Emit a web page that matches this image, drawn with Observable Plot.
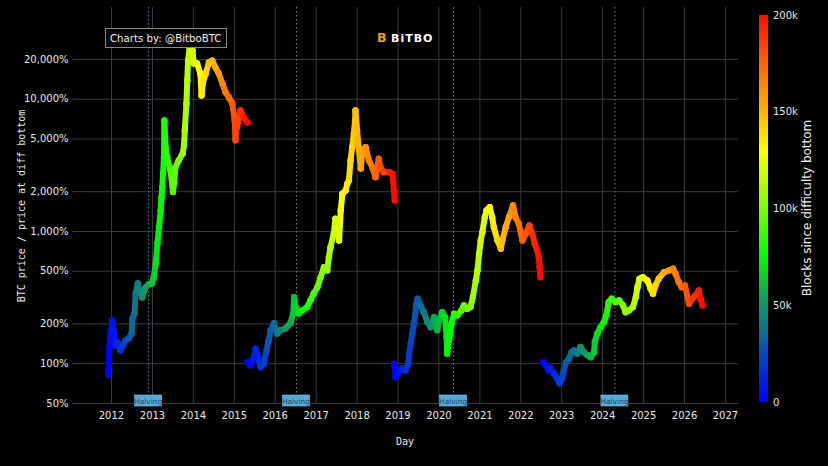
<!DOCTYPE html>
<html><head><meta charset="utf-8">
<script src="https://cdn.jsdelivr.net/npm/d3@7"></script>
<script src="https://cdn.jsdelivr.net/npm/@observablehq/plot@0.6"></script>
<style>
html,body{margin:0;padding:0;background:#000;}
#chart{position:relative;width:828px;height:466px;overflow:hidden;background:#000;}
</style></head><body><div id="chart"></div>
<script>
// [decimal year, BTC price / price at diff bottom (%), blocks since difficulty bottom (k)]
const cycle1 = [
[2011.92,82,0],[2011.93,102,1],[2011.95,133,2],[2011.98,169,4],[2012.02,212,6],[2012.05,179,8],[2012.10,137,11],[2012.15,145,14],[2012.22,126,18],[2012.34,150,25],[2012.42,155,29],[2012.49,169,34],[2012.51,220,35],[2012.56,240,38],[2012.59,340,39],[2012.64,405,42],[2012.66,371,44],[2012.75,317,49],[2012.83,378,54],[2012.90,398,58],[2012.99,405,63],[2013.03,449,65],[2013.08,573,68],[2013.12,813,71],[2013.16,1074,73],[2013.20,1443,75],[2013.22,1811,76],[2013.24,2155,78],[2013.26,2748,79],[2013.28,3631,80],[2013.29,6918,81],[2013.32,4324,82],[2013.36,3631,85],[2013.44,2897,89],[2013.50,1990,93],[2013.53,2312,94],[2013.56,3050,96],[2013.64,3443,101],[2013.74,3891,107],[2013.77,4470,109],[2013.79,5800,110],[2013.83,9290,112],[2013.85,13850,113],[2013.87,19600,115],[2013.91,24600,117],[2013.98,23350,121],[2014.01,18620,123],[2014.09,18620,128],[2014.17,15640,132],[2014.20,10670,134],[2014.23,13150,136],[2014.30,15640,140],[2014.38,18950,145],[2014.46,19600,149],[2014.54,17380,154],[2014.62,15640,159],[2014.71,13150,164],[2014.79,11240,169],[2014.87,10300,173],[2014.95,9290,178],[2015.01,6918,182],[2015.03,4890,183],[2015.05,6918,184],[2015.07,6120,185],[2015.15,8225,190],[2015.23,7285,195],[2015.32,6680,200]
];
const cycle2 = [
[2015.32,103,0],[2015.40,97,4],[2015.48,112,9],[2015.52,130,11],[2015.56,120,13],[2015.64,94,18],[2015.72,100,22],[2015.79,126,26],[2015.84,150,29],[2015.89,179,32],[2015.97,202,36],[2016.05,169,41],[2016.13,179,45],[2016.25,185,52],[2016.37,202,58],[2016.44,240,62],[2016.46,319,63],[2016.50,268,66],[2016.58,240,70],[2016.66,253,74],[2016.78,268,81],[2016.86,301,86],[2016.94,340,90],[2017.03,379,95],[2017.11,451,100],[2017.19,537,104],[2017.27,507,108],[2017.31,639,111],[2017.35,761,113],[2017.43,961,117],[2017.47,1248,120],[2017.52,1078,122],[2017.56,855,125],[2017.60,1443,127],[2017.64,1928,129],[2017.72,2042,133],[2017.76,2294,136],[2017.80,2429,138],[2017.84,3443,140],[2017.88,4335,142],[2017.92,5474,145],[2017.95,6902,146],[2017.96,8222,147],[2018.00,5799,149],[2018.09,2994,154],[2018.13,4096,156],[2018.21,4335,161],[2018.29,3443,165],[2018.37,3062,170],[2018.45,2573,174],[2018.53,3543,178],[2018.57,3062,181],[2018.65,2805,185],[2018.78,2805,192],[2018.86,2729,197],[2018.88,2429,198],[2018.90,2042,199],[2018.92,1715,200]
];
const cycle3 = [
[2018.90,100,0],[2018.94,79,2],[2019.02,86,7],[2019.10,92,11],[2019.18,89,16],[2019.25,100,20],[2019.27,119,21],[2019.31,142,23],[2019.35,169,25],[2019.39,201,27],[2019.45,284,31],[2019.48,310,32],[2019.55,276,36],[2019.63,245,41],[2019.72,206,46],[2019.80,189,50],[2019.88,225,55],[2019.96,179,59],[2020.00,212,61],[2020.08,245,66],[2020.15,225,70],[2020.19,159,72],[2020.20,119,73],[2020.26,159,76],[2020.31,201,79],[2020.37,239,82],[2020.45,232,87],[2020.55,253,92],[2020.61,276,96],[2020.69,260,100],[2020.77,268,105],[2020.83,319,108],[2020.90,426,112],[2020.94,507,114],[2020.98,678,116],[2021.02,855,118],[2021.06,988,121],[2021.12,1283,124],[2021.16,1443,126],[2021.24,1527,131],[2021.30,1283,134],[2021.34,1078,136],[2021.43,855,141],[2021.51,740,146],[2021.55,855,148],[2021.63,1078,153],[2021.71,1283,157],[2021.81,1573,163],[2021.87,1283,166],[2021.95,1144,170],[2022.04,855,176],[2022.12,961,180],[2022.21,1110,185],[2022.28,961,189],[2022.34,807,192],[2022.40,719,196],[2022.44,639,198],[2022.46,537,199],[2022.48,451,200]
];
const cycle4 = [
[2022.54,103,0],[2022.61,97,4],[2022.67,89,7],[2022.73,92,10],[2022.81,84,14],[2022.89,77,18],[2022.95,71,21],[2023.01,77,24],[2023.05,89,26],[2023.11,103,29],[2023.18,109,33],[2023.24,122,36],[2023.30,126,39],[2023.38,119,43],[2023.46,134,47],[2023.54,122,51],[2023.63,116,56],[2023.71,112,60],[2023.79,122,64],[2023.81,146,65],[2023.87,169,68],[2023.95,189,72],[2024.03,206,76],[2024.09,232,80],[2024.15,292,83],[2024.22,310,86],[2024.32,292,91],[2024.40,301,95],[2024.50,276,101],[2024.56,245,104],[2024.64,253,108],[2024.74,268,113],[2024.81,319,116],[2024.85,379,119],[2024.90,439,121],[2024.98,451,125],[2025.09,426,131],[2025.17,369,135],[2025.23,338,138],[2025.29,391,141],[2025.37,439,145],[2025.50,492,152],[2025.62,507,158],[2025.72,523,163],[2025.78,479,166],[2025.86,414,170],[2025.93,379,174],[2026.01,391,178],[2026.11,284,183],[2026.19,310,187],[2026.27,328,191],[2026.35,358,195],[2026.39,310,197],[2026.44,276,200]
];
const halvings = ["2012-11-28","2016-07-09","2020-05-11","2024-04-20"];
const xTickYears = [2012,2013,2014,2015,2016,2017,2018,2019,2020,2021,2022,2023,2024,2025,2026,2027];
const yTickValues = [50,100,200,500,1000,2000,5000,10000,20000];
const colorStops = [0,24000,40000,54000,76000,100000,130000,152000,176000,200000];
const colorRange = ["#0000ff","#0845c4","#0c7a8a","#10a05a","#00ff00","#7aff00","#ffff00","#ffae00","#ff6200","#ff0a00"];
const colorbarTicks = [0,50000,100000,150000,200000];
const colorbarLabels = ["0","50k","100k","150k","200k"];

function dec(y){const Y=Math.floor(y);const s=Date.UTC(Y,0,1),e=Date.UTC(Y+1,0,1);return new Date(s+(y-Y)*(e-s));}

const cycles=[cycle1,cycle2,cycle3,cycle4];
const points=[],segs=[];
cycles.forEach(c=>{
  c.forEach(d=>points.push({date:dec(d[0]),pct:d[1],blocks:d[2]*1000}));
  for(let i=0;i<c.length-1;i++){
    segs.push({x1:dec(c[i][0]),y1:c[i][1],x2:dec(c[i+1][0]),y2:c[i+1][1],blocks:(c[i][2]+c[i+1][2])*500});
  }
});
const halvingDates=halvings.map(s=>new Date(s+"T00:00:00Z"));
const xTicks=xTickYears.map(y=>new Date(Date.UTC(y,0,1)));
const fmtPct=d=>d3.format(",")(d)+"%";
const FONT="'DejaVu Sans', Verdana, sans-serif";

const W=828,H=466,ML=72,MR=90,MT=7,MB=63;
const chart=Plot.plot({
  width:W,height:H,marginLeft:ML,marginRight:MR,marginTop:MT,marginBottom:MB,
  style:{background:"#000",color:"#e8e8e8",fontFamily:FONT,fontSize:"10px"},
  x:{type:"utc",domain:[dec(2011.047),dec(2027.32)],axis:null},
  y:{type:"log",domain:[50,49400],axis:null},
  color:{type:"linear",domain:colorStops,range:colorRange,interpolate:"rgb"},
  marks:[
    Plot.ruleX(xTicks,{stroke:"#3a3a3a",strokeWidth:1}),
    Plot.ruleY(yTickValues,{stroke:"#3a3a3a",strokeWidth:1}),
    Plot.ruleX(halvingDates,{stroke:"#4a8db8",strokeWidth:1,strokeDasharray:"1.5,2.5"}),
    Plot.text(xTicks,{x:d=>d,frameAnchor:"bottom",dy:15,text:d=>String(d.getUTCFullYear()),fill:"#e8e8e8",fontSize:10}),
    Plot.text(yTickValues,{y:d=>d,frameAnchor:"left",dx:-4,textAnchor:"end",text:fmtPct,fill:"#e8e8e8",fontSize:10}),
    Plot.link(segs,{x1:"x1",y1:"y1",x2:"x2",y2:"y2",stroke:"blocks",strokeWidth:6,strokeLinecap:"round"}),
    Plot.dot(points,{x:"date",y:"pct",fill:"blocks",r:3.2,stroke:null})
  ]
});
document.getElementById("chart").appendChild(chart);
const svg=d3.select(chart);
const xs=chart.scale("x");

// halving labels
halvingDates.forEach(d=>{
  const x=xs.apply(d);
  svg.append("rect").attr("x",x-13.5).attr("y",395).attr("width",27).attr("height",11)
    .attr("fill","#58a8d4").attr("stroke","#7cc3ea").attr("stroke-width",0.6);
  svg.append("text").attr("x",x).attr("y",403.5).attr("text-anchor","middle")
    .attr("font-family",FONT).attr("font-size",7.4).attr("fill","#1d4a68").text("Halving");
});

// axis titles
svg.append("text").attr("transform","translate(25,206) rotate(-90)").attr("text-anchor","middle")
  .attr("font-family","'DejaVu Sans Mono', monospace").attr("font-size",10).attr("fill","#e8e8e8")
  .text("BTC price / price at diff bottom");
svg.append("text").attr("x",405).attr("y",445).attr("text-anchor","middle")
  .attr("font-family","'DejaVu Sans Mono', monospace").attr("font-size",10).attr("fill","#e8e8e8").text("Day");

// colorbar
const cbTop=15,cbBot=402,cbX=759,cbW=9;
const grad=svg.append("defs").append("linearGradient").attr("id","cbgrad").attr("x1",0).attr("y1",1).attr("x2",0).attr("y2",0);
colorStops.forEach((s,i)=>grad.append("stop").attr("offset",s/200000).attr("stop-color",colorRange[i]));
svg.append("rect").attr("x",cbX).attr("y",cbTop).attr("width",cbW).attr("height",cbBot-cbTop).attr("fill","url(#cbgrad)");
colorbarTicks.forEach((t,i)=>{
  const y=cbBot-(t/200000)*(cbBot-cbTop);
  svg.append("text").attr("x",773).attr("y",y).attr("dy","0.35em").attr("text-anchor","start")
    .attr("font-family",FONT).attr("font-size",10).attr("fill","#e8e8e8").text(colorbarLabels[i]);
});
svg.append("text").attr("transform","translate(811,208) rotate(-90)").attr("text-anchor","middle")
  .attr("font-family",FONT).attr("font-size",12).attr("fill","#f0f0f0")
  .text("Blocks since difficulty bottom");

// annotation box
svg.append("rect").attr("x",105.5).attr("y",28.5).attr("width",121).attr("height",19)
  .attr("fill","#000").attr("stroke","#8a8a8a").attr("stroke-width",1);
svg.append("text").attr("x",110).attr("y",42).attr("text-anchor","start").attr("font-family",FONT)
  .attr("font-size",10.2).attr("fill","#f0f0f0").text("Charts by: @BitboBTC");

// logo
svg.append("text").attr("x",377).attr("y",42).attr("text-anchor","start").attr("font-family",FONT)
  .attr("font-weight","bold").attr("font-size",12.5).attr("fill","#e9a21c").text("B");
svg.append("text").attr("x",391).attr("y",41.5).attr("text-anchor","start").attr("font-family",FONT)
  .attr("font-weight","bold").attr("font-size",11).attr("letter-spacing",1).attr("fill","#ffffff").text("BiTBO");
</script></body></html>
